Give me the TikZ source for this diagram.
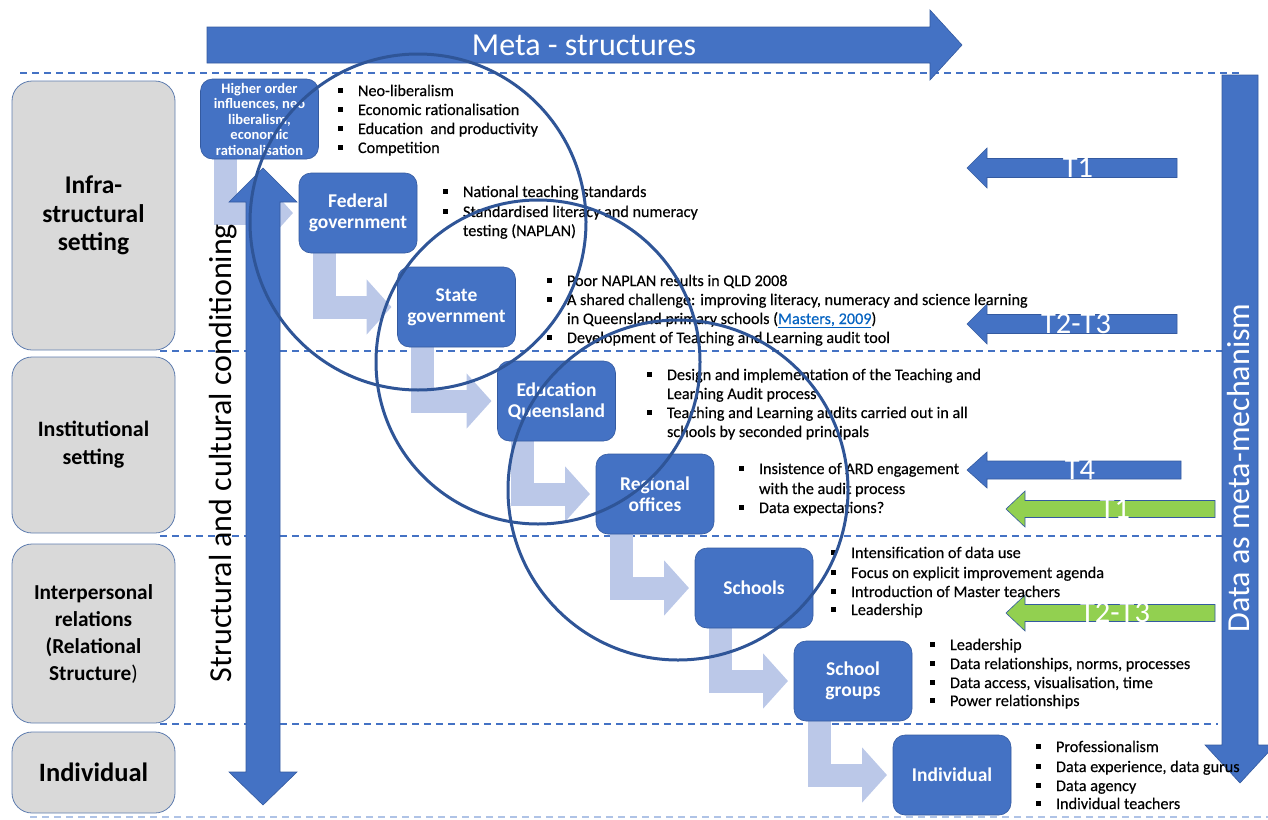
\documentclass[tikz,border=0pt]{standalone}
\usepackage{fontspec}
\setmainfont{Carlito}
\newfontfamily\listfont{Carlito}[FakeBold=0.35]
\usetikzlibrary{arrows.meta}

\definecolor{mblue}{RGB}{68,114,196}
\definecolor{mline}{RGB}{52,90,160}
\definecolor{ringblue}{RGB}{47,85,151}
\definecolor{lav}{RGB}{187,200,232}
\definecolor{greyfill}{RGB}{217,217,217}
\definecolor{greyline}{RGB}{95,125,175}
\definecolor{dashblue}{RGB}{68,114,196}
\definecolor{dashlight}{RGB}{175,195,230}
\definecolor{tgreen}{RGB}{146,208,80}
\definecolor{linkblue}{RGB}{5,99,193}

\pgfdeclarelayer{back}
\pgfdeclarelayer{mid}
\pgfdeclarelayer{front}
\pgfsetlayers{back,mid,main,front}

% bullet marker and hanging indent for list lines
\newcommand\blt{\makebox[20pt][l]{\rule[2.7pt]{5.4pt}{5.4pt}}}
\newcommand\cnt{\hspace*{20pt}}

\tikzset{
  every node/.style={inner sep=0pt, outer sep=0pt},
  tierbox/.style={draw=greyline, line width=0.8pt, fill=greyfill, rounded corners=20pt,
    minimum width=163pt, align=center, font=\bfseries},
  stagebox/.style={draw=mline, line width=0.6pt, fill=mblue, rounded corners=12pt,
    minimum width=118pt, minimum height=80pt, align=center, text=white,
    font=\bfseries\fontsize{19.5}{21}\selectfont},
  listline/.style={anchor=base west, font=\listfont\fontsize{16.2}{19}\selectfont},
  flow/.style={draw=lav, line width=23pt, line join=miter,
    -{Triangle[length=25pt,width=54pt]}},
  ringline/.style={draw=ringblue, line width=3pt},
  tierline/.style={draw=dashblue, line width=1.2pt, dash pattern=on 7pt off 5pt},
  barrow/.style={fill=mblue, draw=mline, line width=0.6pt},
  garrow/.style={fill=tgreen, draw=mline, line width=0.6pt},
  tlabel/.style={text=white, font=\fontsize{30.5}{30.5}\selectfont},
  biglabel/.style={font=\fontsize{32}{32}\selectfont},
}

\begin{document}
\begin{tikzpicture}[x=1pt,y=-1pt]
\useasboundingbox (0,0) rectangle (1268,819);
\clip (0,0) rectangle (1268,819);

% ---------- tier separators ----------
\begin{pgfonlayer}{back}
  \draw[tierline] (20,73) -- (1240,73);
  \draw[tierline] (160,351) -- (1225,351);
  \draw[tierline] (160,536) -- (1225,536);
  \draw[tierline] (160,724) -- (1218,724);
  \draw[tierline, draw=dashlight] (30,817) -- (1268,817);
\end{pgfonlayer}

% ---------- tiers ----------
\node[tierbox, minimum height=269pt, font=\bfseries\fontsize{25.5}{28.5}\selectfont]
  (infra) at (93.5,215.5) {Infra-\\structural\\setting};
\node[tierbox, minimum height=176pt, font=\bfseries\fontsize{22}{28}\selectfont]
  (inst) at (93.5,445) {Institutional\\setting};
\node[tierbox, minimum height=179pt, font=\bfseries\fontsize{21.3}{27}\selectfont]
  (inter) at (93.5,633.5) {Interpersonal\\relations\\(Relational\\Structure{\mdseries)}};
\node[tierbox, minimum height=81pt, font=\bfseries\fontsize{26.5}{28}\selectfont]
  (indiv) at (93.5,772.5) {Individual};

% ---------- meta-structures arrow ----------
\fill[barrow] (207,27) -- (930,27) -- (930,10) -- (962,45) -- (930,80) -- (930,63) -- (207,63) -- cycle;
\node[biglabel, text=white] (meta) at (584,45) {Meta - structures};

% ---------- data as meta-mechanism arrow ----------
\fill[barrow] (1222,75) -- (1258,75) -- (1258,745) -- (1275,745) -- (1240,783)
  -- (1205,745) -- (1222,745) -- cycle;
\node[biglabel, text=white, rotate=90, anchor=base] (dmm) at (1249,468) {Data as meta-mechanism};

% ---------- T arrows ----------
\fill[barrow] (1177,158.5) -- (987,158.5) -- (987,148) -- (967,168) -- (987,188) -- (987,177.5) -- (1177,177.5) -- cycle;
\node[tlabel] (t1a) at (1078,168) {T1};
\fill[barrow] (1177,314.5) -- (987,314.5) -- (987,304) -- (967,324) -- (987,344) -- (987,333.5) -- (1177,333.5) -- cycle;
\node[tlabel] (t23a) at (1076,324) {T2-T3};
\fill[barrow] (1181,461) -- (987,461) -- (987,452) -- (967,470) -- (987,488) -- (987,479) -- (1181,479) -- cycle;
\node[tlabel] (t4) at (1080,470) {T4};
\fill[garrow] (1215,500.5) -- (1025,500.5) -- (1025,491) -- (1006,509) -- (1025,527) -- (1025,517.5) -- (1215,517.5) -- cycle;
\node[tlabel] (t1b) at (1115,509) {T1};
\fill[garrow] (1215,604.5) -- (1025,604.5) -- (1025,595) -- (1006,613) -- (1025,631) -- (1025,621.5) -- (1215,621.5) -- cycle;
\node[tlabel] (t23b) at (1115,613) {T2-T3};

% ---------- cascade of stages ----------
\node[stagebox, font=\bfseries\fontsize{14.5}{15.5}\selectfont] (s1) at (259.5,119)
  {Higher order\\influences, neo\\liberalism,\\economic\\rationalisation};
\node[stagebox] (s2) at (358,213) {Federal\\government};
\node[stagebox] (s3) at (456.5,307) {State\\government};
\node[stagebox] (s4) at (556.5,401) {Education\\Queensland};
\node[stagebox] (s5) at (655,494) {Regional\\offices};
\node[stagebox] (s6) at (754,588) {Schools};
\node[stagebox] (s7) at (853,681) {School\\groups};
\node[stagebox] (s8) at (952,775) {Individual};

\begin{pgfonlayer}{mid}
  \foreach \a/\b in {s1/s2,s2/s3,s3/s4,s4/s5,s5/s6,s6/s7,s7/s8}
    \draw[flow] ([xshift=25pt]\a.south west) |- ([xshift=-6pt]\b.west);
\end{pgfonlayer}

% ---------- structural and cultural conditioning ----------
\fill[barrow] (263,168) -- (297,202) -- (280,202) -- (280,772) -- (297,772) -- (263,805)
  -- (229,772) -- (246,772) -- (246,202) -- (229,202) -- cycle;
\node[biglabel, rotate=90, anchor=base] (scc) at (231,453) {Structural and cultural conditioning};

% ---------- lists ----------
\node[listline] (l11) at (338,96)  {\blt Neo-liberalism};
\node[listline] (l12) at (338,115) {\blt Economic rationalisation};
\node[listline] (l13) at (338,134) {\blt Education\ \ and productivity};
\node[listline] (l14) at (338,153) {\blt Competition};

\node[listline] (l21) at (443,197) {\blt National teaching standards};
\node[listline] (l22) at (443,217) {\blt Standardised literacy and numeracy};
\node[listline] (l23) at (443,236) {\cnt testing (NAPLAN)};

\node[listline] (l31) at (547,286) {\blt Poor NAPLAN results in QLD 2008};
\node[listline] (l32) at (547,305) {\blt A shared challenge: improving literacy, numeracy and science learning};
\node[listline] (l33) at (547,324) {\cnt in Queensland primary schools (\textcolor{linkblue}{\underline{Masters, 2009}})};
\node[listline] (l34) at (547,343) {\blt Development of Teaching and Learning audit tool};

\node[listline] (l41) at (647,380) {\blt Design and implementation of the Teaching and};
\node[listline] (l42) at (647,399) {\cnt Learning Audit process};
\node[listline] (l43) at (647,418) {\blt Teaching and Learning audits carried out in all};
\node[listline] (l44) at (647,437) {\cnt schools by seconded principals};

\node[listline] (l51) at (739,474) {\blt Insistence of ARD engagement};
\node[listline] (l52) at (739,494) {\cnt with the audit process};
\node[listline] (l53) at (739,513) {\blt Data expectations?};

\node[listline] (l61) at (831,558) {\blt Intensification of data use};
\node[listline] (l62) at (831,578) {\blt Focus on explicit improvement agenda};
\node[listline] (l63) at (831,597) {\blt Introduction of Master teachers};
\node[listline] (l64) at (831,615) {\blt Leadership};

\node[listline] (l71) at (930,650) {\blt Leadership};
\node[listline] (l72) at (930,669) {\blt Data relationships, norms, processes};
\node[listline] (l73) at (930,688) {\blt Data access, visualisation, time};
\node[listline] (l74) at (930,706) {\blt Power relationships};

\node[listline] (l81) at (1036,752) {\blt Professionalism};
\node[listline] (l82) at (1036,772) {\blt Data experience, data gurus};
\node[listline] (l83) at (1036,791) {\blt Data agency};
\node[listline] (l84) at (1036,809) {\blt Individual teachers};

% ---------- overlapping rings ----------
\begin{pgfonlayer}{front}
  \draw[ringline] (418,222) circle [radius=168pt];
  \draw[ringline] (538,362) circle [radius=162pt];
  \draw[ringline] (678,490) circle [radius=170pt];
\end{pgfonlayer}
\end{tikzpicture}
\end{document}
